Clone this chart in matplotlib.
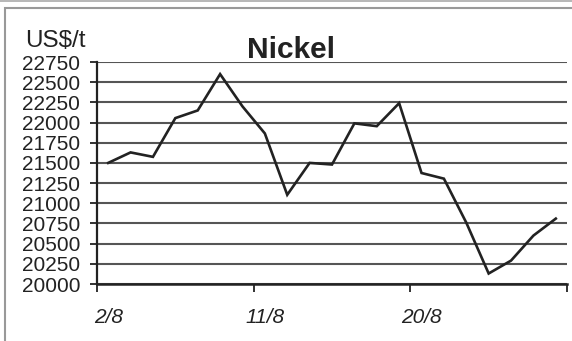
import numpy as np
import matplotlib.pyplot as plt
from matplotlib.patches import Rectangle
from matplotlib.lines import Line2D

# ---- data ----
prices = [21500, 21630, 21575, 22055, 22150, 22600, 22200, 21865, 21105, 21500, 21480,
          21990, 21955, 22240, 21375, 21305, 20760, 20130, 20290, 20600, 20810]
label_days = ["2/8", "11/8", "20/8"]
label_pos = [0, 7, 14]
y_ticks = np.arange(20000, 22751, 250)

plt.rcParams["font.family"] = ["Liberation Sans", "DejaVu Sans"]

fig = plt.figure(figsize=(5.72, 3.41), dpi=100)
ax = fig.add_axes([97 / 572, 1 - 284 / 341, (567 - 97) / 572, (284 - 62) / 341])

x = np.arange(len(prices))
ax.plot(x, prices, color="#222222", linewidth=1.9, solid_joinstyle="miter")

# ---- axes ----
ax.set_xlim(-0.5, len(prices) - 0.5)
ax.set_ylim(20000, 22750)
ax.set_yticks(y_ticks)
ax.set_yticklabels([str(v) for v in y_ticks], fontsize=15)
ax.tick_params(axis="y", length=5, width=1.3, pad=7, color="#222222", labelcolor="#222222")

# category boundaries get the tick marks, labels sit on the categories
ax.set_xticks([-0.5, 6.5, 13.5, 20.5])
ax.set_xticklabels([])
ax.tick_params(axis="x", which="major", length=6, width=1.3, color="#222222")
ax.set_xticks(label_pos, minor=True)
ax.set_xticklabels(label_days, minor=True, fontsize=15, style="italic", color="#222222")
ax.tick_params(axis="x", which="minor", length=0, pad=17)

ax.grid(axis="y", color="#555555", linewidth=1.5)
ax.set_axisbelow(True)
for side in ["top", "right"]:
    ax.spines[side].set_visible(False)
ax.spines["left"].set_linewidth(1.6)
ax.spines["bottom"].set_linewidth(1.8)
ax.spines["left"].set_color("#222222")
ax.spines["bottom"].set_color("#222222")

# ---- titles ----
fig.text(25 / 572, 1 - 47 / 341, "US$/t", fontsize=17.5, color="#222222", va="baseline")
fig.text(291 / 572, 1 - 58 / 341, "Nickel", fontsize=21.5, fontweight="bold",
         color="#222222", ha="center", va="baseline")

# ---- outer frame ----
fig.patches.append(Rectangle((4.5 / 572, -0.05), 1.1, 1 - 7.5 / 341 + 0.05,
                             transform=fig.transFigure, fill=False,
                             edgecolor="#999999", linewidth=1.5))
fig.lines.append(Line2D([0, 1], [1 - 1 / 341, 1 - 1 / 341], transform=fig.transFigure,
                        color="#aaaaaa", linewidth=1.2))

fig.savefig("out.png", dpi=100)
